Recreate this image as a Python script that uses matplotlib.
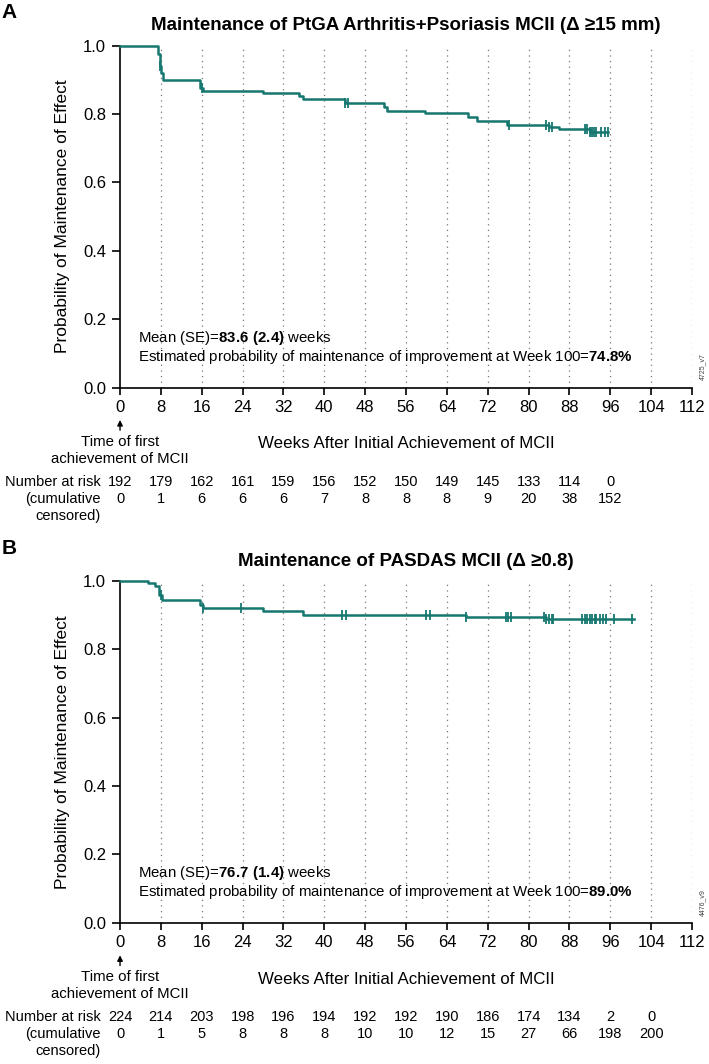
import matplotlib
matplotlib.use("Agg")
import matplotlib.pyplot as plt
import numpy as np

plt.rcParams['font.family'] = ['Liberation Sans', 'DejaVu Sans']
plt.rcParams['mathtext.fontset'] = 'custom'
plt.rcParams['mathtext.rm'] = 'Liberation Sans'
plt.rcParams['mathtext.bf'] = 'Liberation Sans:bold'

TEAL = '#15776f'

# ---- Panel A data (PtGA Arthritis+Psoriasis) ----
times_a = [0, 7.5, 7.8, 8.1, 8.5, 15.6, 16.2, 27.9, 35.1, 35.9, 44.1, 51.7, 52.2,
           59.8, 68.2, 69.8, 75.8, 84.0, 86.0, 92.0]
surv_a = [1.0, 0.975, 0.94, 0.921, 0.90, 0.875, 0.866, 0.862, 0.851, 0.843, 0.833,
          0.82, 0.81, 0.804, 0.79, 0.78, 0.768, 0.763, 0.755, 0.748]
end_a = 95.6
cens_a = [7.9, 16.1, 44.1, 44.7, 76.2, 83.5, 84.0, 84.5, 91.0, 91.5, 92.0, 92.4,
          92.8, 93.2, 94.2, 94.9, 95.6]
risk_a = [192, 179, 162, 161, 159, 156, 152, 150, 149, 145, 133, 114, 0]
cum_a = [0, 1, 6, 6, 6, 7, 8, 8, 8, 9, 20, 38, 152]

# ---- Panel B data (PASDAS) ----
times_b = [0, 5.5, 6.8, 7.6, 8.2, 15.6, 16.2, 28.0, 35.8, 67.7, 83.5]
surv_b = [1.0, 0.994, 0.985, 0.96, 0.944, 0.93, 0.92, 0.912, 0.90, 0.893, 0.888]
end_b = 100.7
cens_b = [8.0, 16.2, 23.7, 43.5, 44.2, 60.0, 60.6, 67.7, 75.5, 76.0, 76.5, 83.0,
          83.5, 84.0, 84.5, 84.8, 90.5, 91.0, 91.5, 92.0, 92.5, 93.0, 93.2, 93.9,
          94.5, 95.2, 96.8, 100.3]
risk_b = [224, 214, 203, 198, 196, 194, 192, 192, 190, 186, 174, 134, 2, 0]
cum_b = [0, 1, 5, 8, 8, 8, 10, 10, 12, 15, 27, 66, 198, 200]

xticks = np.arange(0, 113, 8)

panels = [
    dict(letter='A', title='Maintenance of PtGA Arthritis+Psoriasis MCII (\u0394 \u226515 mm)',
         times=times_a, surv=surv_a, end=end_a, cens=cens_a, risk=risk_a, cum=cum_a,
         mean='83.6 (2.4)', prob='74.8%', code='4725_v7', bottom=0.6358, top_px=13),
    dict(letter='B', title='Maintenance of PASDAS MCII (\u0394 \u22650.8)',
         times=times_b, surv=surv_b, end=end_b, cens=cens_b, risk=risk_b, cum=cum_b,
         mean='76.7 (1.4)', prob='89.0%', code='4476_v9', bottom=0.1327, top_px=548),
]

fig = plt.figure(figsize=(7.09, 10.64), dpi=100)

for p in panels:
    ax = fig.add_axes([0.1693, p['bottom'], 0.8068, 0.3214])
    t = list(p['times']) + [p['end']]
    s = list(p['surv']) + [p['surv'][-1]]
    ax.step(t, s, where='post', color=TEAL, lw=1.8, clip_on=False, zorder=3)
    cy = [p['surv'][np.searchsorted(p['times'], c, side='right') - 1] for c in p['cens']]
    ax.plot(p['cens'], cy, ls='none', marker='|', ms=7, mew=1.3, color=TEAL,
            clip_on=False, zorder=4)

    for x in xticks[1:]:
        ax.axvline(x, color='#777777', lw=0.9, ls=(0, (1, 3.5)), zorder=1)

    ax.set_xlim(0, 112)
    ax.set_ylim(0, 1.0)
    ax.set_xticks(xticks)
    ax.set_yticks(np.arange(0, 1.01, 0.2))
    ax.set_yticklabels([f'{v:.1f}' for v in np.arange(0, 1.01, 0.2)])
    ax.tick_params(axis='x', length=5, width=1.2, labelsize=12, pad=4)
    ax.tick_params(axis='y', length=6, width=1.2, labelsize=12, pad=4)
    for side in ['top', 'right']:
        ax.spines[side].set_visible(False)
    for side in ['left', 'bottom']:
        ax.spines[side].set_linewidth(1.2)

    ax.set_ylabel('Probability of Maintenance of Effect', fontsize=12.5)
    ax.yaxis.set_label_coords(-0.088, 0.5)
    ax.set_xlabel('Weeks After Initial Achievement of MCII', fontsize=12.2)
    ax.xaxis.set_label_coords(0.5, -0.143)
    ax.set_title(p['title'], fontsize=13.5, fontweight='bold', pad=11)

    fig.text(9 / 709, 1 - p['top_px'] / 1064, p['letter'], fontsize=15,
             fontweight='bold', ha='center', va='center')

    mean_txt = 'Mean (SE)=$\\mathbf{' + p['mean'].replace(' ', '\\ ') + '}$ weeks'
    ax.text(3.5, 0.145, mean_txt, fontsize=10.8, va='center')
    prob_txt = ('Estimated probability of maintenance of improvement at Week 100='
                '$\\mathbf{' + p['prob'].replace('%', '\\%') + '}$')
    ax.text(3.5, 0.09, prob_txt, fontsize=10.8, va='center')

    ax.text(1.018, 0.06, p['code'], transform=ax.transAxes, fontsize=5,
            rotation=90, ha='center', va='center', color='#444444')

    # arrow and note at time zero
    ax.annotate('', xy=(0, -0.095), xytext=(0, -0.125), xycoords=('data', 'axes fraction'),
                textcoords=('data', 'axes fraction'),
                arrowprops=dict(arrowstyle='-|>', color='black', lw=1.0,
                                mutation_scale=8, shrinkA=0, shrinkB=0),
                annotation_clip=False)
    trans = ax.get_xaxis_transform()
    ax.text(0, -0.159, 'Time of first', fontsize=10.8, ha='center', va='center',
            transform=trans)
    ax.text(0, -0.209, 'achievement of MCII', fontsize=10.8, ha='center', va='center',
            transform=trans)

    # number at risk table
    ax.text(-3.8, -0.276, 'Number at risk', fontsize=10.5, ha='right', va='center',
            transform=trans)
    ax.text(-3.8, -0.326, '(cumulative', fontsize=10.5, ha='right', va='center',
            transform=trans)
    ax.text(-3.8, -0.376, 'censored)', fontsize=10.5, ha='right', va='center',
            transform=trans)
    for i, (r, c) in enumerate(zip(p['risk'], p['cum'])):
        ax.text(xticks[i], -0.276, str(r), fontsize=10.5, ha='center', va='center',
                transform=trans)
        ax.text(xticks[i], -0.326, str(c), fontsize=10.5, ha='center', va='center',
                transform=trans)

fig.savefig('out.png', dpi=100)
